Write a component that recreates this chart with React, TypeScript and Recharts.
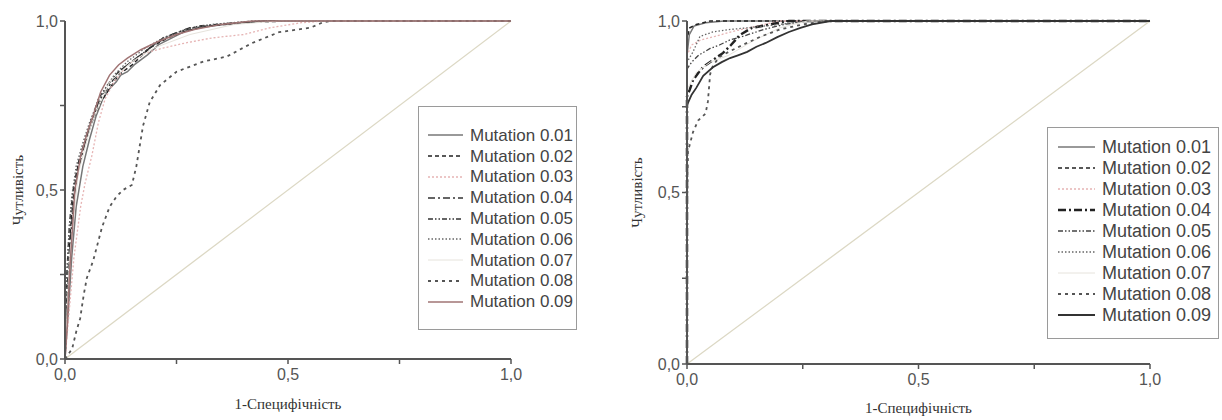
import React from 'react';
import { LineChart, Line, XAxis, YAxis, Legend } from 'recharts';

type Pt = [number, number];

const seriesNames = [
  'Mutation 0.01', 'Mutation 0.02', 'Mutation 0.03', 'Mutation 0.04', 'Mutation 0.05',
  'Mutation 0.06', 'Mutation 0.07', 'Mutation 0.08', 'Mutation 0.09',
];

const axisTicks = [0, 0.25, 0.5, 0.75, 1];
const majorTicks = [0, 0.5, 1];
const diagonal: Pt[] = [[0, 0], [1, 1]];

// left panel: ROC curves (1-specificity, sensitivity)
const left01: Pt[] = [[0, 0], [0.008, 0.15], [0.015, 0.3], [0.025, 0.45], [0.04, 0.57], [0.055, 0.65], [0.07, 0.72], [0.085, 0.77], [0.1, 0.8], [0.115, 0.82], [0.125, 0.84], [0.14, 0.85], [0.155, 0.87], [0.17, 0.885], [0.185, 0.9], [0.21, 0.93], [0.24, 0.95], [0.27, 0.97], [0.3, 0.98], [0.36, 0.99], [0.45, 1], [1, 1]];
const left02: Pt[] = [[0, 0], [0.005, 0.2], [0.012, 0.38], [0.02, 0.5], [0.03, 0.58], [0.045, 0.64], [0.06, 0.7], [0.08, 0.76], [0.1, 0.8], [0.12, 0.84], [0.15, 0.87], [0.19, 0.92], [0.23, 0.95], [0.27, 0.97], [0.32, 0.985], [0.4, 0.995], [0.5, 1], [1, 1]];
const left03: Pt[] = [[0, 0], [0.01, 0.15], [0.02, 0.3], [0.035, 0.45], [0.045, 0.52], [0.06, 0.6], [0.075, 0.7], [0.09, 0.77], [0.11, 0.82], [0.14, 0.87], [0.18, 0.905], [0.22, 0.92], [0.27, 0.935], [0.33, 0.95], [0.4, 0.96], [0.46, 0.98], [0.53, 0.995], [0.58, 1], [1, 1]];
const left04: Pt[] = [[0, 0], [0.006, 0.2], [0.012, 0.35], [0.02, 0.48], [0.03, 0.56], [0.045, 0.64], [0.06, 0.7], [0.075, 0.76], [0.09, 0.79], [0.11, 0.83], [0.13, 0.86], [0.16, 0.89], [0.2, 0.93], [0.24, 0.96], [0.28, 0.98], [0.35, 0.99], [0.45, 1], [1, 1]];
const left05: Pt[] = [[0, 0], [0.004, 0.25], [0.01, 0.4], [0.018, 0.5], [0.03, 0.58], [0.045, 0.65], [0.06, 0.71], [0.075, 0.77], [0.095, 0.81], [0.12, 0.85], [0.15, 0.88], [0.18, 0.91], [0.22, 0.95], [0.26, 0.97], [0.3, 0.985], [0.38, 0.995], [0.45, 1], [1, 1]];
const left06: Pt[] = [[0, 0], [0.003, 0.2], [0.008, 0.35], [0.015, 0.48], [0.025, 0.57], [0.04, 0.64], [0.055, 0.7], [0.07, 0.75], [0.09, 0.8], [0.11, 0.84], [0.14, 0.88], [0.18, 0.92], [0.22, 0.95], [0.27, 0.975], [0.33, 0.99], [0.42, 1], [1, 1]];
const left07: Pt[] = [[0, 0], [0.01, 0.3], [0.03, 0.55], [0.06, 0.7], [0.1, 0.82], [0.15, 0.88], [0.2, 0.92], [0.28, 0.96], [0.38, 0.99], [0.48, 1], [1, 1]];
const left08: Pt[] = [[0, 0], [0.016, 0.03], [0.025, 0.08], [0.034, 0.12], [0.042, 0.19], [0.049, 0.24], [0.063, 0.29], [0.075, 0.35], [0.083, 0.39], [0.1, 0.45], [0.115, 0.48], [0.13, 0.5], [0.15, 0.515], [0.16, 0.57], [0.165, 0.61], [0.175, 0.69], [0.19, 0.76], [0.213, 0.81], [0.25, 0.85], [0.31, 0.88], [0.363, 0.895], [0.42, 0.935], [0.48, 0.967], [0.55, 0.98], [0.58, 0.997], [0.6, 1], [1, 1]];
const left09: Pt[] = [[0, 0], [0.005, 0.1], [0.01, 0.25], [0.015, 0.35], [0.022, 0.5], [0.035, 0.6], [0.05, 0.67], [0.063, 0.72], [0.08, 0.79], [0.1, 0.84], [0.12, 0.87], [0.14, 0.89], [0.17, 0.915], [0.21, 0.94], [0.25, 0.96], [0.29, 0.975], [0.35, 0.99], [0.42, 1], [1, 1]];

// right panel
const right01: Pt[] = [[0, 0], [0, 0.9], [0.005, 0.96], [0.015, 0.985], [0.04, 0.995], [0.08, 1], [1, 1]];
const right02: Pt[] = [[0, 0], [0, 0.95], [0.006, 0.98], [0.02, 0.99], [0.05, 1], [1, 1]];
const right03: Pt[] = [[0, 0], [0, 0.9], [0.01, 0.93], [0.03, 0.945], [0.06, 0.955], [0.1, 0.97], [0.15, 0.985], [0.2, 1], [1, 1]];
const right04: Pt[] = [[0, 0], [0, 0.78], [0.006, 0.8], [0.013, 0.828], [0.025, 0.85], [0.035, 0.866], [0.055, 0.885], [0.078, 0.907], [0.095, 0.93], [0.115, 0.96], [0.14, 0.98], [0.18, 0.99], [0.22, 1], [1, 1]];
const right05: Pt[] = [[0, 0], [0, 0.86], [0.01, 0.88], [0.025, 0.9], [0.05, 0.92], [0.07, 0.93], [0.093, 0.945], [0.12, 0.955], [0.165, 0.975], [0.21, 0.99], [0.26, 1], [1, 1]];
const right06: Pt[] = [[0, 0], [0, 0.88], [0.013, 0.91], [0.028, 0.955], [0.056, 0.968], [0.09, 0.975], [0.13, 0.98], [0.2, 0.99], [0.26, 1], [1, 1]];
const right07: Pt[] = [[0, 0], [0, 0.8], [0.02, 0.85], [0.05, 0.88], [0.09, 0.9], [0.14, 0.94], [0.2, 0.98], [0.26, 1], [1, 1]];
const right08: Pt[] = [[0, 0], [0, 0.45], [0.002, 0.62], [0.008, 0.65], [0.013, 0.676], [0.024, 0.71], [0.04, 0.73], [0.045, 0.764], [0.05, 0.845], [0.056, 0.87], [0.07, 0.895], [0.09, 0.91], [0.12, 0.93], [0.16, 0.955], [0.2, 0.975], [0.25, 0.99], [0.3, 1], [1, 1]];
const right09: Pt[] = [[0, 0], [0, 0.755], [0.01, 0.785], [0.02, 0.805], [0.035, 0.84], [0.056, 0.865], [0.075, 0.88], [0.093, 0.892], [0.11, 0.9], [0.13, 0.91], [0.15, 0.925], [0.17, 0.936], [0.195, 0.953], [0.22, 0.968], [0.245, 0.98], [0.27, 0.99], [0.31, 1], [1, 1]];

const leftSeries = [left01, left02, left03, left04, left05, left06, left07, left08, left09];
const rightSeries = [right01, right02, right03, right04, right05, right06, right07, right08, right09];

interface LineStyle {
  stroke: string;
  width: number;
  dash?: string;
}

const leftStyles: LineStyle[] = [
  { stroke: '#777', width: 1.5 },
  { stroke: '#222', width: 1.4, dash: '4 3' },
  { stroke: '#e6b4b4', width: 1.3, dash: '2 2' },
  { stroke: '#333', width: 1.5, dash: '7 3 2 3' },
  { stroke: '#333', width: 1.4, dash: '5 2 1.5 2 1.5 2' },
  { stroke: '#666', width: 1.3, dash: '1.5 2' },
  { stroke: '#e6e3dc', width: 1 },
  { stroke: '#555', width: 1.8, dash: '3 4' },
  { stroke: '#a07474', width: 1.5 },
];

const rightStyles: LineStyle[] = [
  { stroke: '#777', width: 1.5 },
  { stroke: '#222', width: 1.5, dash: '4 3' },
  { stroke: '#e6b4b4', width: 1.3, dash: '2 2' },
  { stroke: '#222', width: 2.5, dash: '8 3 2 3' },
  { stroke: '#444', width: 1.3, dash: '5 2 1.5 2 1.5 2' },
  { stroke: '#666', width: 1.3, dash: '1.5 2' },
  { stroke: '#e6e3dc', width: 1 },
  { stroke: '#555', width: 1.8, dash: '3 4' },
  { stroke: '#333', width: 1.8 },
];

const fmt = (v: number) => (majorTicks.includes(v) ? v.toFixed(1).replace('.', ',') : '');
const toRows = (pts: Pt[]) => pts.map(([x, y]) => ({ x, y }));

const tickStyle = { fill: '#555', fontSize: 16, fontFamily: '"Liberation Sans", Arial, sans-serif' };
const titleStyle = { fill: '#333', fontSize: 15, fontFamily: '"Liberation Serif", "Times New Roman", serif' };

interface LegendBoxProps {
  styles: LineStyle[];
  fontSize: number;
  rowH: number;
  padTop: number;
  padLeft: number;
  sample: number;
  gap: number;
  width: number;
  height: number;
}

const LegendBox: React.FC<LegendBoxProps> = ({ styles, fontSize, rowH, padTop, padLeft, sample, gap, width, height }) => (
  <div
    style={{
      boxSizing: 'border-box',
      width,
      height,
      border: '1.5px solid #9a9a9a',
      background: '#fff',
      paddingTop: padTop,
      paddingLeft: padLeft,
      fontFamily: '"Liberation Sans", Arial, sans-serif',
      fontSize,
      color: '#444',
      overflow: 'hidden',
      whiteSpace: 'nowrap',
    }}
  >
    {seriesNames.map((name, i) => (
      <div key={name} style={{ display: 'flex', alignItems: 'center', height: rowH }}>
        <svg width={sample} height={10} style={{ flex: 'none' }}>
          <line x1={0} y1={5} x2={sample} y2={5} stroke={styles[i].stroke} strokeWidth={styles[i].width} strokeDasharray={styles[i].dash} />
        </svg>
        <span style={{ marginLeft: gap, lineHeight: 1 }}>{name}</span>
      </div>
    ))}
  </div>
);

interface PanelProps {
  series: Pt[][];
  styles: LineStyle[];
  width: number;
  yAxisWidth: number;
  right: number;
  bottom: number;
  yTitleOffset: number;
  xTitleOffset: number;
  legend: LegendBoxProps & { left: number; top: number };
}

const RocPanel: React.FC<PanelProps> = ({ series, styles, width, yAxisWidth, right, bottom, yTitleOffset, xTitleOffset, legend }) => (
  <LineChart width={width} height={420} margin={{ top: 21, right, bottom, left: 0 }}>
    <XAxis
      dataKey="x"
      type="number"
      domain={[0, 1]}
      ticks={axisTicks}
      interval={0}
      tickFormatter={fmt}
      height={30}
      tickSize={5}
      tickMargin={5}
      tick={tickStyle}
      axisLine={{ stroke: '#555', strokeWidth: 2 }}
      tickLine={{ stroke: '#555', strokeWidth: 1.5 }}
      label={{ value: '1-Специфічність', position: 'bottom', offset: xTitleOffset, style: titleStyle }}
    />
    <YAxis
      dataKey="y"
      type="number"
      domain={[0, 1]}
      ticks={axisTicks}
      interval={0}
      tickFormatter={fmt}
      width={yAxisWidth}
      tickSize={5}
      tickMargin={2}
      tick={tickStyle}
      axisLine={{ stroke: '#555', strokeWidth: 2 }}
      tickLine={{ stroke: '#555', strokeWidth: 1.5 }}
      label={{ value: 'Чутливість', angle: -90, position: 'insideLeft', offset: yTitleOffset, style: { ...titleStyle, textAnchor: 'middle' } }}
    />
    <Line
      data={toRows(diagonal)}
      dataKey="y"
      stroke="#dcd8c4"
      strokeWidth={1.3}
      dot={false}
      activeDot={false}
      isAnimationActive={false}
      legendType="none"
    />
    {series.map((pts, i) => (
      <Line
        key={seriesNames[i]}
        name={seriesNames[i]}
        data={toRows(pts)}
        dataKey="y"
        type="linear"
        stroke={styles[i].stroke}
        strokeWidth={styles[i].width}
        strokeDasharray={styles[i].dash}
        dot={false}
        activeDot={false}
        isAnimationActive={false}
      />
    ))}
    <Legend
      layout="vertical"
      align="center"
      verticalAlign="middle"
      content={() => <LegendBox {...legend} />}
      wrapperStyle={{ position: 'absolute', left: legend.left, top: legend.top, width: legend.width, height: legend.height }}
    />
  </LineChart>
);

export default function App() {
  return (
    <div style={{ position: 'absolute', left: 0, top: 0, width: 1222, height: 420, background: '#fff', overflow: 'hidden' }}>
      <div style={{ position: 'absolute', left: 0, top: 0 }}>
        <RocPanel
          series={leftSeries}
          styles={leftStyles}
          width={600}
          yAxisWidth={65}
          right={89}
          bottom={31}
          yTitleOffset={18}
          xTitleOffset={9}
          legend={{
            styles: leftStyles, fontSize: 17, rowH: 20.8, padTop: 18, padLeft: 9, sample: 35, gap: 7,
            width: 159, height: 224, left: 418, top: 106,
          }}
        />
      </div>
      <div style={{ position: 'absolute', left: 600, top: 0 }}>
        <RocPanel
          series={rightSeries}
          styles={rightStyles}
          width={622}
          yAxisWidth={87}
          right={72}
          bottom={26}
          yTitleOffset={37}
          xTitleOffset={8}
          legend={{
            styles: rightStyles, fontSize: 18, rowH: 20.9, padTop: 9, padLeft: 10, sample: 37, gap: 7,
            width: 172, height: 212, left: 447, top: 127,
          }}
        />
      </div>
    </div>
  );
}
